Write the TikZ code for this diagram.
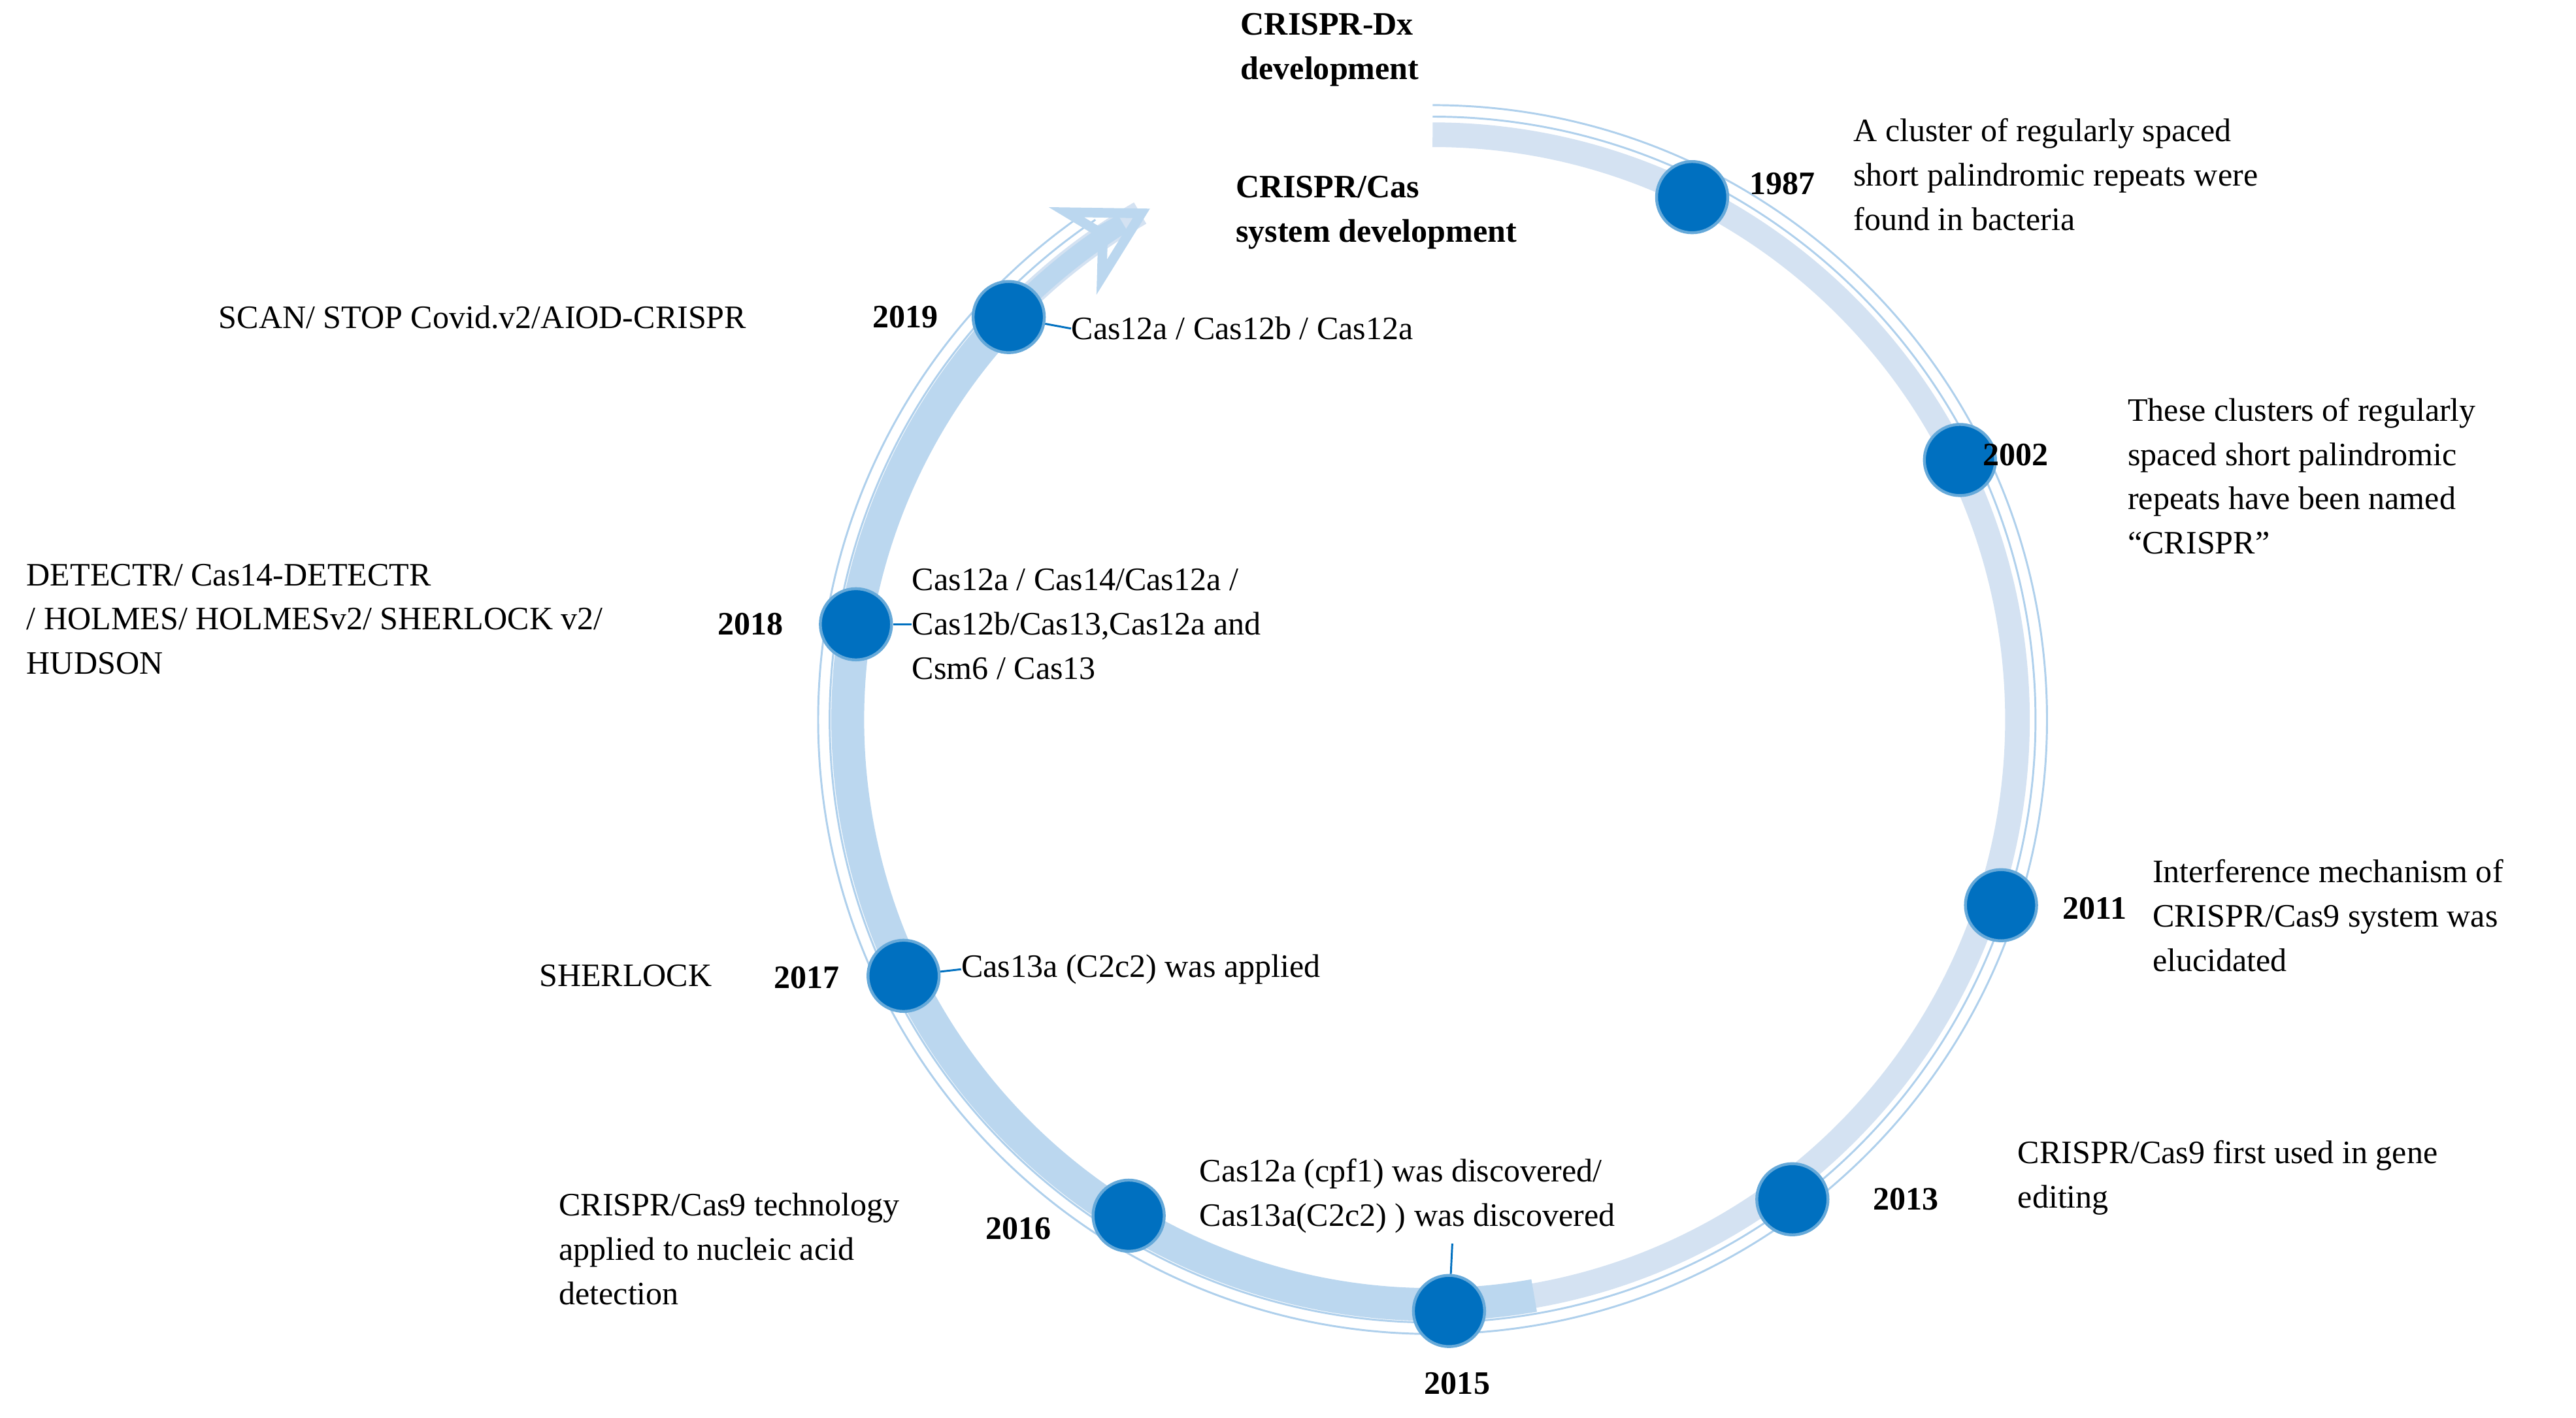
\documentclass[tikz,border=0pt]{standalone}
\usepackage{fontspec}
\setmainfont{Liberation Serif}
\usetikzlibrary{arrows.meta}
\definecolor{dotblue}{RGB}{0,112,192}
\definecolor{ringblue}{RGB}{175,208,236}
\definecolor{ringpale}{RGB}{212,226,242}
\tikzset{
  dot/.style={circle, fill=dotblue, draw=dotblue!60!white, line width=1.5pt, minimum size=1.3cm, inner sep=0pt},
  yr/.style={font=\fontsize{17}{23}\selectfont\bfseries},
  txt/.style={align=left, inner sep=0pt},
  lead/.style={draw=dotblue, line width=1pt}
}
\begin{document}
\begin{tikzpicture}[x=0.03cm, y=-0.03cm, every node/.style={font=\fontsize{17}{23}\selectfont}]
  \useasboundingbox (0,0) rectangle (1568,863);
  % rings (angles mirrored by y=-)
  \draw[ringpale, line width=0.45cm] (872,82) arc[start angle=-90, end angle=240, radius=356];
  \draw[ringblue, line width=1pt] (872,71) arc[start angle=-90, end angle=236, radius=367];
  \draw[ringblue, line width=1pt] (872,64) arc[start angle=-90, end angle=236, radius=374];
  \draw[ringblue!85!white, line width=0.6cm] (872,438) ++(80:356)
     arc[start angle=80, end angle=225, radius=356];
  \draw[ringblue!85!white, line width=0.35cm, -{Stealth[length=1.6cm, width=1.8cm, open, line width=5pt]}]
     (872,438) ++(225:356) arc[start angle=225, end angle=238, radius=356] -- (700,127);
  % headings
  \node[yr, txt, anchor=north west] (dx) at (755,8) {CRISPR-Dx\\development};
  \node[yr, txt, anchor=north west] (cas) at (752,107) {CRISPR/Cas\\system development};
  % dots
  \node[dot] (d1987) at (1030,120) {};
  \node[dot] (d2002) at (1193,280) {};
  \node[dot] (d2011) at (1218,551) {};
  \node[dot] (d2013) at (1091,730) {};
  \node[dot] (d2015) at (882,798) {};
  \node[dot] (d2016) at (687,740) {};
  \node[dot] (d2017) at (550,594) {};
  \node[dot] (d2018) at (521,380) {};
  \node[dot] (d2019) at (614,193) {};
  % years
  \node[yr] at (1085,112) {1987};
  \node[yr] at (1227,277) {2002};
  \node[yr] at (1275,553) {2011};
  \node[yr] at (1160,730) {2013};
  \node[yr] at (887,842) {2015};
  \node[yr] at (620,748) {2016};
  \node[yr] at (491,595) {2017};
  \node[yr] at (457,380) {2018};
  \node[yr] at (551,193) {2019};
  % right side texts
  \node[txt, anchor=north west] at (1128,72) {A cluster of regularly spaced\\short palindromic repeats were\\found in bacteria};
  \node[txt, anchor=north west] at (1295,242) {These clusters of regularly\\spaced short palindromic\\repeats have been named\\``CRISPR''};
  \node[txt, anchor=north west] at (1310,523) {Interference mechanism of\\CRISPR/Cas9 system was\\elucidated};
  \node[txt, anchor=north west] at (1228,694) {CRISPR/Cas9 first used in gene\\editing};
  % inner texts
  \node[txt, anchor=west] (t2019) at (652,200) {Cas12a / Cas12b / Cas12a};
  \node[txt, anchor=north west] (t2018) at (555,346) {Cas12a / Cas14/Cas12a /\\Cas12b/Cas13,Cas12a and\\Csm6 / Cas13};
  \node[txt, anchor=west] (t2017) at (585,590) {Cas13a (C2c2) was applied};
  \node[txt, anchor=north west] (t2015) at (730,705) {Cas12a (cpf1) was discovered/\\Cas13a(C2c2) ) was discovered};
  \draw[lead] (d2019) -- (t2019.west);
  \draw[lead] (d2018) -- (555,380);
  \draw[lead] (d2017) -- (t2017.west);
  \draw[lead] (d2015) -- (884,757);
  % left texts
  \node[txt, anchor=west] at (133,193) {SCAN/ STOP Covid.v2/AIOD-CRISPR};
  \node[txt, anchor=north west] at (16,343) {DETECTR/ Cas14-DETECTR\\/ HOLMES/ HOLMESv2/ SHERLOCK v2/\\HUDSON};
  \node[txt, anchor=west] at (328,594) {SHERLOCK};
  \node[txt, anchor=north west] at (340,726) {CRISPR/Cas9 technology\\applied to nucleic acid\\detection};
\end{tikzpicture}
\end{document}
